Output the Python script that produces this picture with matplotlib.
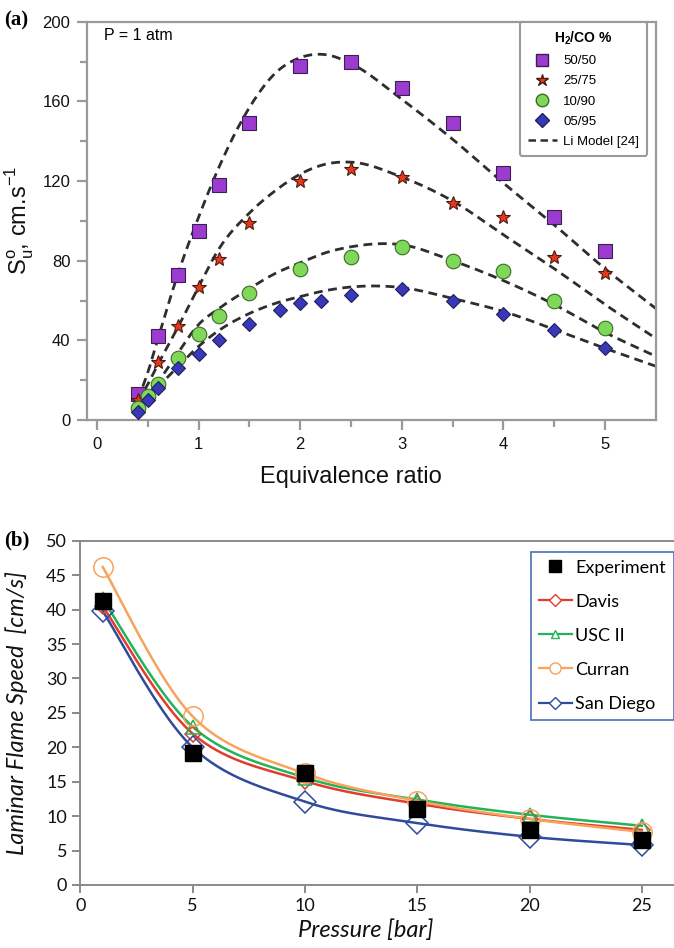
import numpy as np
import matplotlib
matplotlib.use("Agg")
import matplotlib.pyplot as plt
from matplotlib.lines import Line2D

# ── (a) H2/CO flame speed vs equivalence ratio, P = 1 atm ──
phi_50 = [0.4, 0.6, 0.8, 1.0, 1.2, 1.5, 2.0, 2.5, 3.0, 3.5, 4.0, 4.5, 5.0]
su_50 = [13, 42, 73, 95, 118, 149, 178, 180, 167, 149, 124, 102, 85]
phi_25 = [0.4, 0.6, 0.8, 1.0, 1.2, 1.5, 2.0, 2.5, 3.0, 3.5, 4.0, 4.5, 5.0]
su_25 = [10, 29, 47, 67, 81, 99, 120, 126, 122, 109, 102, 82, 74]
phi_10 = [0.4, 0.5, 0.6, 0.8, 1.0, 1.2, 1.5, 2.0, 2.5, 3.0, 3.5, 4.0, 4.5, 5.0]
su_10 = [6, 12, 18, 31, 43, 52, 64, 76, 82, 87, 80, 75, 60, 46]
phi_05 = [0.4, 0.5, 0.6, 0.8, 1.0, 1.2, 1.5, 1.8, 2.0, 2.2, 2.5, 3.0, 3.5, 4.0, 4.5, 5.0]
su_05 = [4, 10, 16, 26, 33, 40, 48, 55, 59, 60, 63, 66, 60, 53, 45, 36]

# Li model curves, sampled along phi
phi_li = [0.4, 0.5, 0.6, 0.8, 1.0, 1.2, 1.5, 1.75, 2.0, 2.25, 2.5, 3.0, 3.5, 4.0, 4.5, 5.0, 5.5]
li_50 = [10, 24, 41, 74, 102, 127, 157, 174, 182, 183.5, 179, 161, 141, 119, 98, 76, 56]
li_25 = [9, 18, 28, 47, 67, 86, 104, 115, 123.5, 128.5, 129.5, 122, 110, 93, 76, 58, 41]
li_10 = [6, 12, 19, 34, 48, 56, 66, 73.5, 79, 84, 87, 88, 80, 70, 58, 44, 32]
li_05 = [5, 11, 16.5, 27, 37, 45, 53.5, 58.5, 62, 65, 66.8, 66.5, 61, 54.5, 45.5, 36, 27]

# ── (b) laminar flame speed vs pressure ──
p_bar = [1, 5, 10, 15, 20, 25]
s_exp = [41.2, 19.2, 16.2, 11.0, 8.0, 6.5]
s_davis = [40.5, 22.0, 15.1, 11.8, 9.6, 8.0]
s_usc = [41.5, 23.0, 15.6, 12.4, 10.2, 8.6]
s_curran = [46.2, 24.5, 16.2, 12.2, 9.6, 7.7]
s_sandiego = [39.8, 20.0, 12.1, 9.0, 7.0, 5.8]


def smooth(x, y, n=300):
    """Cubic Hermite curve through (x, y) with finite-difference slopes."""
    x = np.asarray(x, float)
    y = np.asarray(y, float)
    m = np.gradient(y, x)
    xs = np.linspace(x[0], x[-1], n)
    i = np.clip(np.searchsorted(x, xs, side="right") - 1, 0, len(x) - 2)
    h = x[i + 1] - x[i]
    t = (xs - x[i]) / h
    h00 = 2 * t**3 - 3 * t**2 + 1
    h10 = t**3 - 2 * t**2 + t
    h01 = -2 * t**3 + 3 * t**2
    h11 = t**3 - t**2
    return xs, h00 * y[i] + h10 * h * m[i] + h01 * y[i + 1] + h11 * h * m[i + 1]


def spreadsheet_smooth(axis, x, y, n=40):
    """Bezier smoothing done in screen space (Catmull-Rom, tension 1/2)."""
    pts = axis.transData.transform(np.column_stack([x, y]))
    P = np.vstack([pts[0], pts, pts[-1]])
    t = np.linspace(0, 1, n)[:, None]
    segs = []
    for k in range(1, len(P) - 2):
        p0, p1 = P[k], P[k + 1]
        c1 = p0 + (P[k + 1] - P[k - 1]) / 6
        c2 = p1 - (P[k + 2] - P[k]) / 6
        segs.append((1 - t)**3 * p0 + 3 * (1 - t)**2 * t * c1
                    + 3 * (1 - t) * t**2 * c2 + t**3 * p1)
    return axis.transData.inverted().transform(np.vstack(segs)).T


fig = plt.figure(figsize=(6.74, 9.48), dpi=100)
grey = "#9a9a9a"

# ─────────────── panel (a) ───────────────
sans = ["Liberation Sans", "DejaVu Sans"]
ax = fig.add_axes([0.129, 0.557, 0.844, 0.42])
for y_li in (li_50, li_25, li_10, li_05):
    xs, ys = smooth(phi_li, y_li)
    ax.plot(xs, ys, color="#2e2e2e", lw=2.0, dashes=(3.2, 2.0), zorder=2)

mk = dict(linestyle="none", markeredgewidth=0.8, zorder=3)
ax.plot(phi_50, su_50, marker="s", ms=10.5, mfc="#9b3bd0", mec="#3a2050", **mk)
ax.plot(phi_25, su_25, marker="*", ms=10.5, mfc="#e8361c", mec="#4a1a10", **mk)
ax.plot(phi_10, su_10, marker="o", ms=10.5, mfc="#7fd858", mec="#3c6a2a", **mk)
ax.plot(phi_05, su_05, marker="D", ms=7.5, mfc="#3838b8", mec="#20205a", **mk)

ax.set_xlim(-0.1, 5.5)
ax.set_ylim(0, 200)
ax.set_xticks([0, 1, 2, 3, 4, 5])
ax.set_xticks(np.arange(0.5, 5.5, 1.0), minor=True)
ax.set_yticks([0, 40, 80, 120, 160, 200])
ax.set_yticks([20, 60, 100, 140, 180], minor=True)
for s in ax.spines.values():
    s.set_color(grey)
    s.set_linewidth(1.6)
ax.tick_params(which="both", direction="out", color=grey, width=1.6, labelsize=12,
               labelcolor="#111111")
ax.tick_params(which="major", length=7, pad=5)
ax.tick_params(which="minor", length=5)
for lab in ax.get_xticklabels() + ax.get_yticklabels():
    lab.set_family(sans)

ax.set_xlabel("Equivalence ratio", fontsize=17, family=sans, color="#111111")
ax.xaxis.set_label_coords(2.6 / 5.6, -0.115)
ax.set_ylabel(r"S$_\mathregular{u}^\mathregular{o}$, cm.s$^\mathregular{-1}$",
              fontsize=17, family=sans, color="#111111")
ax.yaxis.set_label_coords(-0.09, 0.5)
ax.text(0.03, 0.985, "P = 1 atm", transform=ax.transAxes, fontsize=11.5,
        family=sans, va="top", ha="left")

handles_a = [
    Line2D([], [], marker="s", ms=9, mfc="#9b3bd0", mec="#3a2050", ls="none", label="50/50"),
    Line2D([], [], marker="*", ms=9, mfc="#e8361c", mec="#4a1a10", ls="none", label="25/75"),
    Line2D([], [], marker="o", ms=9, mfc="#7fd858", mec="#3c6a2a", ls="none", label="10/90"),
    Line2D([], [], marker="D", ms=7, mfc="#3838b8", mec="#20205a", ls="none", label="05/95"),
    Line2D([], [], color="#2e2e2e", lw=1.8, dashes=(3, 1.8), label="Li Model [24]"),
]
leg = ax.legend(handles=handles_a, title=r"H$_\mathregular{2}$/CO %", loc="upper right",
                bbox_to_anchor=(0.985, 1.0), title_fontsize=10,
                prop={"family": sans, "size": 9.5}, frameon=True, fancybox=True,
                edgecolor=grey, framealpha=1, handlelength=2.2, handletextpad=0.5,
                labelspacing=0.6, borderpad=0.6, borderaxespad=0)
leg.get_title().set_fontweight("bold")
leg.get_title().set_family(sans)
leg.get_frame().set_linewidth(1.5)

fig.text(0.006, 0.978, "(a)", fontsize=15, fontweight="bold",
         family=["Liberation Serif", "DejaVu Serif"], va="center", ha="left")

# ─────────────── panel (b) ───────────────
cal = ["Lato", "DejaVu Sans"]
bx = fig.add_axes([0.119, 0.0665, 0.9, 0.363])
bx.set_xlim(0, 27)
bx.set_ylim(0, 50)

series_b = [
    (s_davis, "#e33b2c", "D", 8, "Davis"),
    (s_usc, "#22b35c", "^", 10, "USC II"),
    (s_curran, "#f8a35c", "o", 14, "Curran"),
    (s_sandiego, "#2f4b9b", "D", 11, "San Diego"),
]
handles_b = [Line2D([], [], marker="s", ms=9, color="black", ls="none", label="Experiment")]
for vals, col, m, ms, name in series_b:
    xs, ys = spreadsheet_smooth(bx, p_bar, vals)
    bx.plot(xs, ys, color=col, lw=1.8, zorder=2)
    bx.plot(p_bar, vals, ls="none", marker=m, ms=ms, mfc="none", mec=col, mew=1.1, zorder=3)
    handles_b.append(Line2D([], [], color=col, lw=1.6, marker=m, ms=6 if m != "o" else 8,
                            mfc="white", mec=col, mew=1.0, label=name))
bx.plot(p_bar, s_exp, ls="none", marker="s", ms=11.5, color="black", zorder=4)

bx.set_xticks([0, 5, 10, 15, 20, 25])
bx.set_yticks(np.arange(0, 51, 5))
bx.spines["right"].set_visible(False)
for s in ("left", "bottom", "top"):
    bx.spines[s].set_color("#8a8a8a")
    bx.spines[s].set_linewidth(1.4)
bx.tick_params(direction="out", color="#8a8a8a", width=1.4, length=6, labelsize=13,
               labelcolor="#111111")
for lab in bx.get_xticklabels() + bx.get_yticklabels():
    lab.set_family(cal)

bx.set_xlabel("Pressure [bar]", fontsize=17, style="italic", family=cal, color="#111111")
bx.xaxis.set_label_coords(0.47, -0.1)
bx.set_ylabel("Laminar Flame Speed  [cm/s]", fontsize=17, style="italic", family=cal,
              color="#111111")
bx.yaxis.set_label_coords(-0.086, 0.5)

leg_b = bx.legend(handles=handles_b, loc="upper left",
                  bbox_to_anchor=(531 / 674, 1 - 551.5 / 948),
                  bbox_transform=fig.transFigure, prop={"family": cal, "size": 13},
                  frameon=True, fancybox=False, edgecolor="#4a6fb5", framealpha=1,
                  handlelength=1.8, handletextpad=0.2, labelspacing=1.0,
                  borderpad=0.45, borderaxespad=0)
leg_b.get_frame().set_linewidth(1.2)

fig.text(0.006, 0.43, "(b)", fontsize=15, fontweight="bold",
         family=["Liberation Serif", "DejaVu Serif"], va="center", ha="left")

fig.savefig("out.png", dpi=100)
